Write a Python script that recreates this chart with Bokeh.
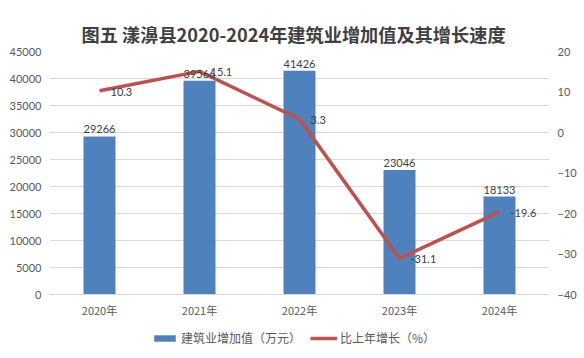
from bokeh.plotting import figure
from bokeh.models import (ColumnDataSource, Range1d, LinearAxis, FixedTicker,
                          Legend, LegendItem, FactorRange)
from bokeh.layouts import column
from bokeh.core.properties import value
from bokeh.embed import file_html
from bokeh.resources import INLINE

years = ["2020年", "2021年", "2022年", "2023年", "2024年"]
added_value = [29266, 39566, 41426, 23046, 18133]
growth = [10.3, 15.1, 3.3, -31.1, -19.6]
left_ticks = [0, 5000, 10000, 15000, 20000, 25000, 30000, 35000, 40000, 45000]
right_ticks = [-40, -30, -20, -10, 0, 10, 20]
legend_labels = ["建筑业增加值（万元）", "比上年增长（%）"]

BAR_COLOR = "#4f81bd"
LINE_COLOR = "#c0504d"

src = ColumnDataSource(dict(
    year=years,
    val=added_value,
    val_txt=[str(v) for v in added_value],
    g=growth,
    g_txt=[str(v) for v in growth],
))

CJK = "Noto Sans CJK SC"
NUM = "Lato"

p = figure(width=584, height=322,
           x_range=FactorRange(*years, range_padding=0),
           y_range=Range1d(0, 45000), output_backend="svg", toolbar_location=None,
           min_border_left=49, min_border_right=35, min_border_top=51,
           min_border_bottom=28)
p.extra_y_ranges = {"g": Range1d(-40, 20)}

p.title.text = "图五  漾濞县2020-2024年建筑业增加值及其增长速度"
p.title.align = "left"
p.title.offset = 32
p.title.text_font = CJK
p.title.text_font_size = "18.2px"
p.title.text_font_style = "bold"
p.title.text_color = "#404040"

p.outline_line_color = None
p.xgrid.grid_line_color = None
p.ygrid.grid_line_color = "#d9d9d9"
p.ygrid.ticker = FixedTicker(ticks=left_ticks)

p.vbar(x="year", top="val", width=0.32, source=src,
       fill_color=BAR_COLOR, line_color=None)
p.line(x="year", y="g", source=src, y_range_name="g",
       line_color=LINE_COLOR, line_width=3.5)

p.text(x="year", y="val", text="val_txt", source=src, text_align="center",
       text_baseline="bottom", y_offset=-3, text_font=value(NUM),
       text_font_size="11px", text_color="#404040")
p.text(x="year", y="g", text="g_txt", source=src, y_range_name="g",
       text_align="left", text_baseline="middle", x_offset=11, y_offset=1,
       text_font=value(NUM), text_font_size="11px", text_color="#404040")

def style_axis(ax, font, standoff):
    ax.major_tick_out = 0
    ax.major_tick_in = 0
    ax.major_tick_line_color = None
    ax.minor_tick_line_color = None
    ax.major_label_standoff = standoff
    ax.major_label_text_font = font
    ax.major_label_text_font_size = "11px"
    ax.major_label_text_color = "#595959"

la = p.yaxis[0]
la.ticker = FixedTicker(ticks=left_ticks)
la.axis_line_color = None
style_axis(la, NUM, 8)

ra = LinearAxis(y_range_name="g", ticker=FixedTicker(ticks=right_ticks))
ra.axis_line_color = None
style_axis(ra, NUM, 8)
p.add_layout(ra, "right")

xa = p.xaxis[0]
xa.axis_line_color = "#d9d9d9"
style_axis(xa, CJK, 7)

# legend strip below the chart: proxies of the same series, clipped out of view
q = figure(width=584, height=36, x_range=FactorRange(*years, range_padding=0),
           y_range=Range1d(1e6, 1e6 + 1),
           output_backend="svg", toolbar_location=None,
           x_axis_location=None, y_axis_location=None,
           min_border=0, min_border_left=0, min_border_right=0,
           min_border_top=0, min_border_bottom=0)
q.grid.visible = False
q.outline_line_color = None
lb = q.vbar(x="year", top="val", width=0.32, source=src,
            fill_color=BAR_COLOR, line_color=None)
ll = q.line(x="year", y="g", source=src, line_color=LINE_COLOR, line_width=3.5)

legend = Legend(items=[LegendItem(label=legend_labels[0], renderers=[lb]),
                       LegendItem(label=legend_labels[1], renderers=[ll])],
                orientation="horizontal", location=(102, 12),
                glyph_width=27, glyph_height=8, label_standoff=3, spacing=9,
                padding=0, margin=0, border_line_color=None,
                background_fill_alpha=0,
                label_text_font=CJK, label_text_font_size="12px",
                label_text_color="#595959")
q.add_layout(legend, "center")

open("out.html", "w").write(file_html(column(p, q, spacing=0), INLINE))
